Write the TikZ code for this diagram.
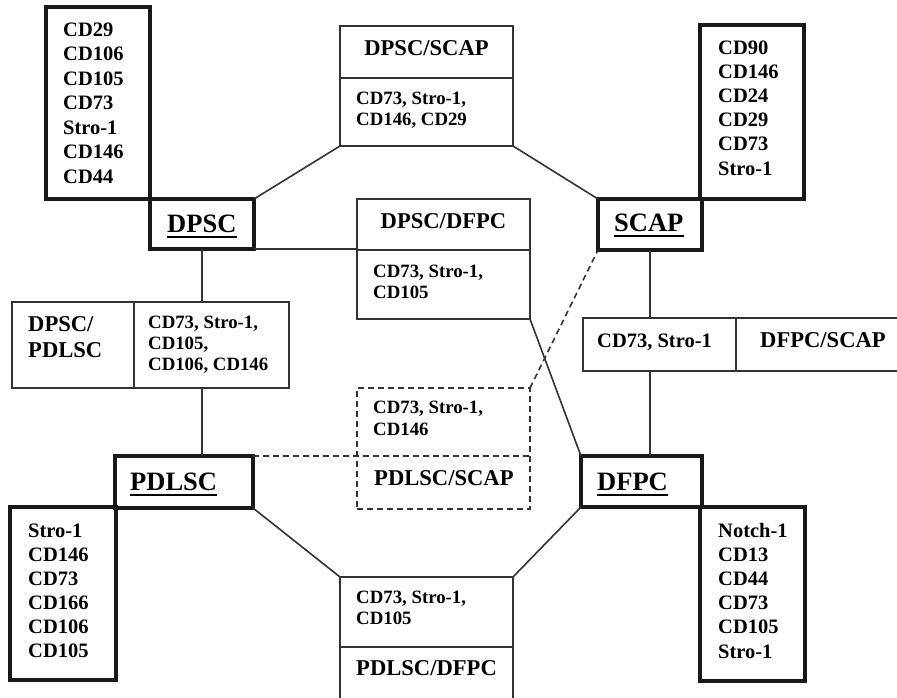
\documentclass[tikz,border=0pt]{standalone}
\usepackage{fontspec}
\setmainfont{Liberation Serif}
\begin{document}
\begin{tikzpicture}[x=1pt,y=-1pt,
  thk/.style={draw=black!90, line width=3.2pt, inner sep=0pt, outer sep=0pt, anchor=north west},
  thn/.style={draw=black!80, line width=1.6pt, inner sep=0pt, outer sep=0pt, anchor=north west},
  dsh/.style={thn, dash pattern=on 6pt off 4pt},
  conn/.style={draw=black!80, line width=1.6pt},
  dconn/.style={conn, dash pattern=on 6pt off 4pt},
  mk/.style={font=\bfseries\fontsize{20.5}{24}\selectfont, inner sep=0pt, anchor=base west},
  bd/.style={font=\bfseries\fontsize{18.8}{21}\selectfont, inner sep=0pt, anchor=base west},
  hd/.style={font=\bfseries\fontsize{22.6}{26}\selectfont, inner sep=0pt, anchor=base west},
  lb/.style={font=\bfseries\fontsize{26.5}{30}\selectfont, inner sep=0pt, anchor=base west},
  ul/.style={line width=2.6pt, draw=black}]
\useasboundingbox (0,0) rectangle (897,697);
\clip (0,0) rectangle (897,697);

% ---- thick boxes
\node[thk, minimum width=104pt, minimum height=192pt] (dpscM) at (46,7) {};
\node[thk, minimum width=104pt, minimum height=50pt] (dpsc) at (150,199) {};
\node[thk, minimum width=104pt, minimum height=174pt] (scapM) at (700,25) {};
\node[thk, minimum width=104pt, minimum height=51pt] (scap) at (598,199) {};
\node[thk, minimum width=138pt, minimum height=52pt] (pdlsc) at (115,456) {};
\node[thk, minimum width=106pt, minimum height=173pt] (pdlscM) at (10,507) {};
\node[thk, minimum width=121pt, minimum height=51pt] (dfpc) at (581,456) {};
\node[thk, minimum width=105pt, minimum height=174pt] (dfpcM) at (700,507) {};

% ---- thin boxes
\node[thn, minimum width=173pt, minimum height=120pt] (ds) at (340,26) {};
\node[thn, minimum width=173pt, minimum height=120pt] (dd) at (357,199) {};
\node[thn, minimum width=277pt, minimum height=86pt] (dpd) at (12,302) {};
\node[thn, minimum width=322pt, minimum height=53pt] (fs) at (583,318) {};
\node[dsh, minimum width=173pt, minimum height=121pt] (psd) at (357,388) {};
\node[thn, minimum width=173pt, minimum height=133pt] (pdf) at (340,577) {};

% ---- dividers
\draw[conn] (ds.west |- 0,78) -- (ds.east |- 0,78);
\draw[conn] (dd.west |- 0,250) -- (dd.east |- 0,250);
\draw[conn] (134,0 |- dpd.north) -- (134,0 |- dpd.south);
\draw[conn] (736,0 |- fs.north) -- (736,0 |- fs.south);
\draw[conn] (pdf.west |- 0,647) -- (pdf.east |- 0,647);

% ---- connectors
\draw[conn] (dpsc.north east) -- (ds.south west);
\draw[conn] (ds.south east) -- (scap.north west);
\draw[conn] (dpsc.south east) -- (dd.west |- dpsc.south east);
\draw[conn] (dd.south east) -- (dfpc.north west);
\draw[conn] (dpsc.south) -- (dpsc.south |- dpd.north);
\draw[conn] (dpsc.south |- dpd.south) -- (dpsc.south |- pdlsc.north);
\draw[conn] (scap.south) -- (scap.south |- fs.north);
\draw[conn] (scap.south |- fs.south) -- (scap.south |- dfpc.north);
\draw[dconn] (pdlsc.north east) -- (psd.east |- pdlsc.north east);
\draw[dconn] (psd.north east) -- (scap.south west);
\draw[conn] (pdlsc.south east) -- (pdf.north west);
\draw[conn] (dfpc.south west) -- (pdf.north east);

% ---- marker lists
\foreach \t [count=\i from 0] in {CD29,CD106,CD105,CD73,Stro-1,CD146,CD44}
  \node[mk] (dpscm\i) at (63,{36+24.5*\i}) {\t};
\foreach \t [count=\i from 0] in {CD90,CD146,CD24,CD29,CD73,Stro-1}
  \node[mk] (scapm\i) at (718,{54+24.2*\i}) {\t};
\foreach \t [count=\i from 0] in {Stro-1,CD146,CD73,CD166,CD106,CD105}
  \node[mk] (pdlscm\i) at (28,{537+24*\i}) {\t};
\foreach \t [count=\i from 0] in {Notch-1,CD13,CD44,CD73,CD105,Stro-1}
  \node[mk] (dfpcm\i) at (718,{537+24.2*\i}) {\t};

% ---- main labels
\node[lb] (dpscl) at (167,232) {DPSC};
\node[lb] (scapl) at (614,231) {SCAP};
\node[lb] (pdlscl) at (130,490) {PDLSC};
\node[lb] (dfpcl) at (597,490) {DFPC};
\foreach \n in {dpscl,scapl,pdlscl,dfpcl}
  \draw[ul] ([yshift=-5pt]\n.base west) -- ([yshift=-5pt]\n.base east);

% ---- pair boxes
\node[hd, anchor=base] (dsh) at (426.5,55) {DPSC/SCAP};
\foreach \t [count=\i from 0] in {{CD73, Stro-1,},{CD146, CD29}}
  \node[bd] (dsb\i) at (356,{104+21*\i}) {\t};

\node[hd, anchor=base] (ddh) at (443.5,228) {DPSC/DFPC};
\foreach \t [count=\i from 0] in {{CD73, Stro-1,},{CD105}}
  \node[bd] (ddb\i) at (373,{277+21*\i}) {\t};

\node[hd] (dpdh0) at (28,331) {DPSC/};
\node[hd] (dpdh1) at (28,357) {PDLSC};
\foreach \t [count=\i from 0] in {{CD73, Stro-1,},{CD105,},{CD106, CD146}}
  \node[bd] (dpdb\i) at (148,{328+21.4*\i}) {\t};

\node[mk] (fsb) at (597,347) {CD73, Stro-1};
\node[hd] (fsh) at (760,347) {DFPC/SCAP};

\foreach \t [count=\i from 0] in {{CD73, Stro-1,},{CD146}}
  \node[bd] (psdb\i) at (373,{413+22*\i}) {\t};
\node[hd] (psdh) at (374,485) {PDLSC/SCAP};

\foreach \t [count=\i from 0] in {{CD73, Stro-1,},{CD105}}
  \node[bd] (pdfb\i) at (356,{603+21*\i}) {\t};
\node[hd] (pdfh) at (356,675) {PDLSC/DFPC};
\end{tikzpicture}
\end{document}
